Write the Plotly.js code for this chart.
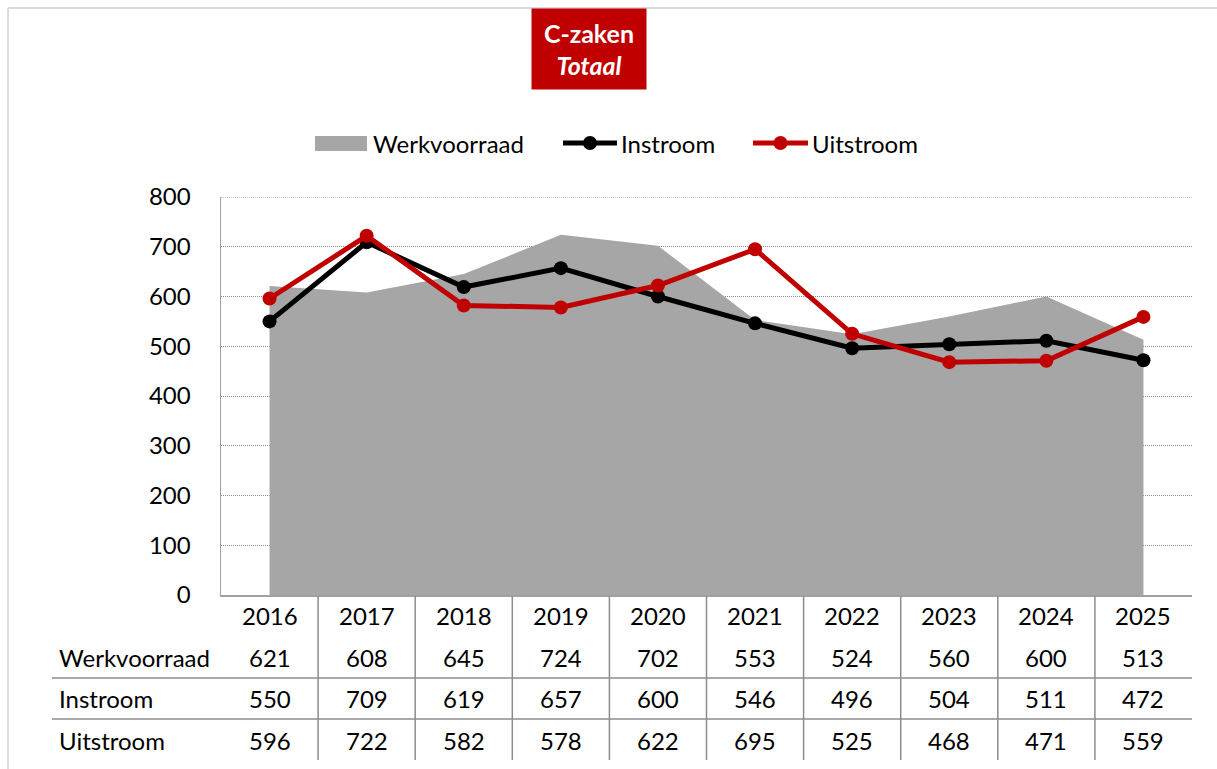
<!DOCTYPE html>
<html>
<head>
<meta charset="utf-8">
<script src="https://cdn.plot.ly/plotly-3.0.1.min.js"></script>
<style>html,body{margin:0;padding:0;background:#fff;}#chart{width:1217px;height:769px;}</style>
</head>
<body>
<div id="chart"></div>
<script>
var years = ['2016','2017','2018','2019','2020','2021','2022','2023','2024','2025'];
var werkvoorraad = [621, 608, 645, 724, 702, 553, 524, 560, 600, 513];
var instroom = [550, 709, 619, 657, 600, 546, 496, 504, 511, 472];
var uitstroom = [596, 722, 582, 578, 622, 695, 525, 468, 471, 559];
var seriesNames = ['Werkvoorraad', 'Instroom', 'Uitstroom'];
var yTicks = [0, 100, 200, 300, 400, 500, 600, 700, 800];

var FONT = 'Lato, "Noto Sans", sans-serif';
var FS = 24;
var RED = '#C00000';
var GRAY = '#A6A6A6';

// pixel helpers for layout (plot area: x 221..1192, y 197..595)
var L = 221, R = 1192, T = 197, B = 595;
function px(x) { return (x - L) / (R - L); }
function py(y) { return (B - y) / (B - T); }

var idx = years.map(function (_, i) { return i; });

var traces = [
  { x: idx, y: werkvoorraad, type: 'scatter', mode: 'lines', fill: 'tozeroy',
    fillcolor: GRAY, line: { width: 0, color: GRAY }, name: seriesNames[0], hoverinfo: 'y' },
  { x: idx, y: instroom, type: 'scatter', mode: 'lines+markers',
    line: { width: 5, color: '#000000' }, marker: { size: 14, color: '#000000' }, name: seriesNames[1] },
  { x: idx, y: uitstroom, type: 'scatter', mode: 'lines+markers',
    line: { width: 5, color: RED }, marker: { size: 14, color: RED }, name: seriesNames[2] }
];

var shapes = [];
var annotations = [];

// top gridline at the axis maximum (Plotly omits gridlines at the range edge)
shapes.push({ type: 'line', xref: 'paper', yref: 'y', x0: 0, x1: 1, y0: yTicks[yTicks.length - 1], y1: yTicks[yTicks.length - 1],
  layer: 'below', line: { color: '#8A8A8A', width: 1, dash: '1px,1px' } });

// outer chart frame (top and left)
shapes.push({ type: 'line', xref: 'paper', yref: 'paper', x0: px(8), x1: px(1217), y0: py(8), y1: py(8),
  line: { color: '#CFCFCF', width: 1.5 } });
shapes.push({ type: 'line', xref: 'paper', yref: 'paper', x0: px(8), x1: px(8), y0: py(8), y1: py(769),
  line: { color: '#CFCFCF', width: 1.5 } });

// data table: vertical separators between categories
for (var i = 0; i < years.length - 1; i++) {
  shapes.push({ type: 'line', xref: 'x', yref: 'paper', x0: i + 0.5, x1: i + 0.5, y0: py(596), y1: py(760),
    line: { color: '#8C8C8C', width: 1.5 } });
}
// horizontal separators
[678, 719].forEach(function (yy) {
  shapes.push({ type: 'line', xref: 'paper', yref: 'paper', x0: px(52), x1: 1, y0: py(yy), y1: py(yy),
    line: { color: '#8C8C8C', width: 1.5 } });
});

// year header and values
var rowY = [657, 698, 740];
var rowData = [werkvoorraad, instroom, uitstroom];
years.forEach(function (yr, i) {
  annotations.push({ xref: 'x', yref: 'paper', x: i, y: py(615), text: yr, showarrow: false,
    font: { family: FONT, size: FS, color: '#000' }, xanchor: 'center', yanchor: 'middle' });
  rowData.forEach(function (arr, r) {
    annotations.push({ xref: 'x', yref: 'paper', x: i, y: py(rowY[r]), text: String(arr[i]), showarrow: false,
      font: { family: FONT, size: FS, color: '#000' }, xanchor: 'center', yanchor: 'middle' });
  });
});
seriesNames.forEach(function (nm, r) {
  annotations.push({ xref: 'paper', yref: 'paper', x: px(57), y: py(rowY[r]), text: nm, showarrow: false,
    font: { family: FONT, size: FS, color: '#000' }, xanchor: 'left', yanchor: 'middle' });
});

// title box
annotations.push({ xref: 'paper', yref: 'paper', x: px(589), y: py(49), xanchor: 'center', yanchor: 'middle',
  text: '<b>C-zaken</b><br><b><i>Totaal</i></b>', showarrow: false, bgcolor: RED, borderpad: 0,
  width: 114, height: 80, font: { family: FONT, size: 25, color: '#FFFFFF' } });

// legend (manual)
var legY = 143;
shapes.push({ type: 'rect', xref: 'paper', yref: 'paper', x0: px(315), x1: px(367), y0: py(151), y1: py(136),
  fillcolor: GRAY, line: { width: 0 } });
annotations.push({ xref: 'paper', yref: 'paper', x: px(371), y: py(legY), text: seriesNames[0], showarrow: false,
  xanchor: 'left', yanchor: 'middle', font: { family: FONT, size: FS, color: '#000' } });
[[563, 617, '#000000', 1], [753, 808, RED, 2]].forEach(function (s) {
  shapes.push({ type: 'line', xref: 'paper', yref: 'paper', x0: px(s[0]), x1: px(s[1]), y0: py(legY), y1: py(legY),
    line: { color: s[2], width: 5 } });
  var c = (s[0] + s[1]) / 2;
  shapes.push({ type: 'circle', xref: 'paper', yref: 'paper', x0: px(c - 7), x1: px(c + 7), y0: py(legY + 7), y1: py(legY - 7),
    fillcolor: s[2], line: { width: 0 } });
  annotations.push({ xref: 'paper', yref: 'paper', x: px(s[1] + 2), y: py(legY), text: seriesNames[s[3]], showarrow: false,
    xanchor: 'left', yanchor: 'middle', font: { family: FONT, size: FS, color: '#000' } });
});

var layout = {
  width: 1217, height: 769,
  margin: { l: L, r: 1217 - R, t: T, b: 769 - B, pad: 0 },
  paper_bgcolor: '#FFFFFF', plot_bgcolor: '#FFFFFF',
  showlegend: false,
  font: { family: FONT, size: FS, color: '#000' },
  xaxis: { range: [-0.5, years.length - 0.5], showgrid: false, zeroline: false, showticklabels: false,
    ticks: '', showline: true, linecolor: '#A0A0A0', linewidth: 1.5, fixedrange: true },
  yaxis: { range: [0, 800], tickvals: yTicks, ticktext: yTicks.map(String), showgrid: true,
    gridcolor: '#8A8A8A', griddash: '1px,1px', gridwidth: 1, zeroline: false, showline: true,
    linecolor: '#A0A0A0', linewidth: 1.5, ticks: '', ticklabelstandoff: 24,
    tickfont: { family: FONT, size: FS, color: '#000' }, fixedrange: true },
  shapes: shapes,
  annotations: annotations
};

Plotly.newPlot('chart', traces, layout, { displayModeBar: false, staticPlot: true });
</script>
</body>
</html>
